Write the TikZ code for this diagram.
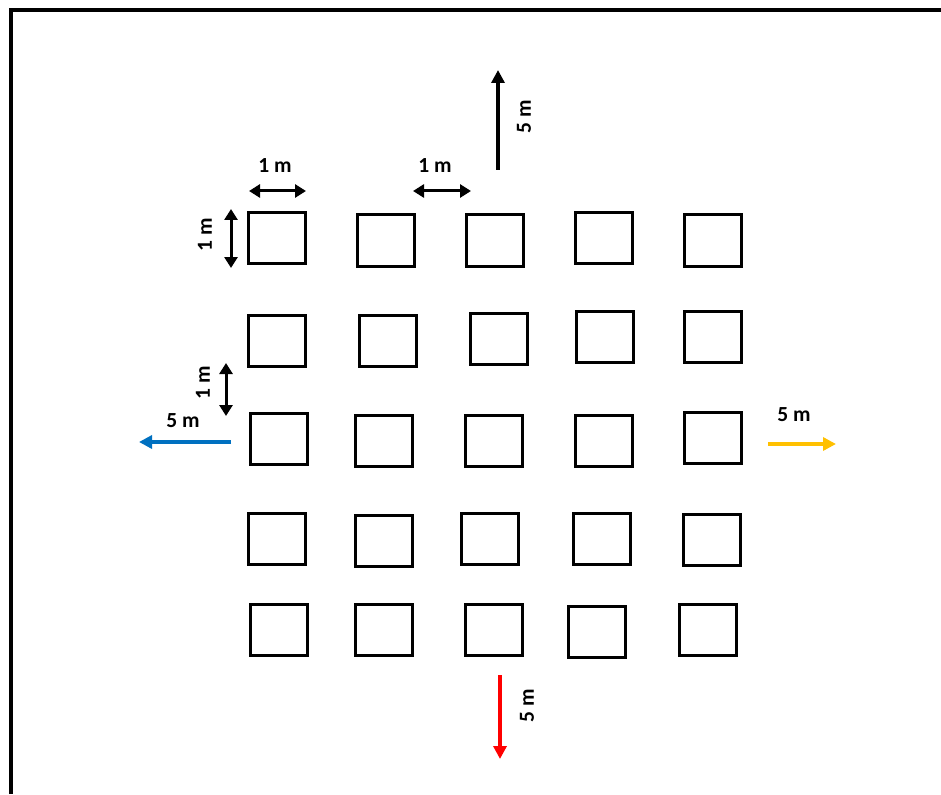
\documentclass[tikz,border=0pt]{standalone}
\usepackage{fontspec}
\setmainfont{Carlito}
\usetikzlibrary{arrows.meta,positioning}
\definecolor{exitblue}{RGB}{0,112,192}
\definecolor{exityellow}{RGB}{255,192,0}
\definecolor{exitred}{RGB}{255,0,0}

\begin{document}
\begin{tikzpicture}[
    x=1pt, y=-1pt,
    plot/.style={draw, line width=3pt, minimum width=57pt, minimum height=51pt, inner sep=0pt},
    lbl/.style={font=\fontsize{21.5}{25}\selectfont\bfseries, inner sep=1pt},
    dim/.style={{Triangle[length=11pt,width=13pt]}-{Triangle[length=11pt,width=13pt]}, line width=3pt},
    go/.style={-{Triangle[length=13pt,width=13pt]}, line width=3.5pt}
]
\useasboundingbox (0,0) rectangle (941,794);
% frame
\draw[line width=4pt] (11,794) -- (11,10) -- (941,10);

% plots, row by row
\foreach \r/\c/\x/\y in {
    1/1/276.5/238, 1/2/385.5/240.5, 1/3/494.5/240.5, 1/4/603.5/238, 1/5/712.5/240.5,
    2/1/276.5/340.5, 2/2/387.5/340.5, 2/3/498.5/338.5, 2/4/604.5/337, 2/5/712.5/337,
    3/1/278.5/439, 3/2/383.5/441, 3/3/493.5/441, 3/4/603.5/441, 3/5/712.5/438,
    4/1/276.5/538.5, 4/2/383.5/540.5, 4/3/489.5/538.5, 4/4/602/538.5, 4/5/711.5/539.5,
    5/1/278.5/629.5, 5/2/383.5/629.5, 5/3/493.5/629.5, 5/4/597/631.5, 5/5/708/629.5}
    \node[plot] (p\r\c) at (\x,\y) {};

% spacing marks
\coordinate (h1a) at (249,191);
\coordinate (h1b) at (306,191);
\coordinate (h2a) at (413,191);
\coordinate (h2b) at (471,191);
\coordinate (v1a) at (231,209);
\coordinate (v1b) at (231,268);
\coordinate (v2a) at (226,363);
\coordinate (v2b) at (226,416);
\draw[dim] (h1a) -- (h1b);
\draw[dim] (h2a) -- (h2b);
\draw[dim] (v1a) -- (v1b);
\draw[dim] (v2a) -- (v2b);
\node[lbl] (lh1) at (275,166) {1 m};
\node[lbl] (lh2) at (435,166) {1 m};
\node[lbl, rotate=90] (lv1) at (205,235) {1 m};
\node[lbl, rotate=90] (lv2) at (203,383) {1 m};

% buffer distances
\coordinate (nA) at (498,170);
\coordinate (nB) at (498,70);
\coordinate (wA) at (231,442);
\coordinate (wB) at (139,442);
\coordinate (eA) at (768,444);
\coordinate (eB) at (836,444);
\coordinate (sA) at (500,675);
\coordinate (sB) at (500,759);
\draw[go] (nA) -- (nB);
\draw[go, exitblue] (wA) -- (wB);
\draw[go, exityellow] (eA) -- (eB);
\draw[go, exitred] (sA) -- (sB);
\node[lbl, rotate=90] (ln) at (524,117) {5 m};
\node[lbl] (lw) at (183,421) {5 m};
\node[lbl] (le) at (794,415) {5 m};
\node[lbl, rotate=90] (ls) at (527,706) {5 m};
\end{tikzpicture}
\end{document}
